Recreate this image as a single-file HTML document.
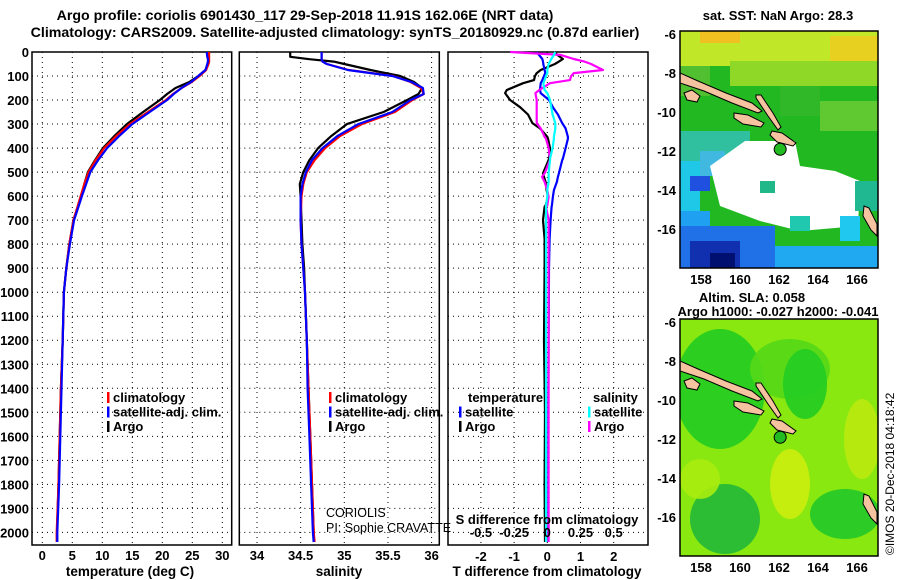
<!DOCTYPE html>
<html><head><meta charset="utf-8"><style>
body{margin:0;background:#fff;}
svg{display:block;font-family:"Liberation Sans",sans-serif;}
.b{font-weight:bold;font-size:13.5px;}
.h{font-weight:bold;font-size:14.2px;}
.t{font-weight:bold;font-size:13px;}
.n{font-weight:normal;font-size:12.5px;}
</style></head><body>
<svg id="fig" width="900" height="580" viewBox="0 0 900 580">
<text class="h" x="305" y="20" text-anchor="middle">Argo profile: coriolis 6901430_117 29-Sep-2018 11.91S 162.06E (NRT data)</text>
<text class="h" x="335" y="37" text-anchor="middle">Climatology: CARS2009. Satellite-adjusted climatology: synTS_20180929.nc (0.87d earlier)</text>
<g id="plots"></g>
<g id="maps"></g>
<text x="894" y="555" font-size="12" transform="rotate(-90 894 555)">©IMOS 20-Dec-2018 04:18:42</text>
</svg>
<script>
const NS="http://www.w3.org/2000/svg";
// ---- data ----
const depths=[0,20,30,40,50,75,100,125,150,175,200,250,300,350,400,450,500,550,600,700,800,900,1000,1200,1400,1600,1800,2000,2040];
const argoT=[27.6,27.6,27.7,27.7,27.6,27.2,26.0,24.5,22.2,20.8,19.6,16.8,14.1,12.0,10.1,8.8,7.6,7.0,6.5,5.2,4.5,4.0,3.6,3.4,3.1,2.9,2.7,2.45,2.45];
const climT=[27.8,27.8,27.8,27.8,27.7,27.3,26.2,24.9,23.2,21.8,20.6,17.6,14.6,12.3,10.3,8.9,7.7,7.0,6.4,5.2,4.5,4.0,3.6,3.4,3.1,2.9,2.7,2.4,2.4];
const satT=[27.4,27.5,27.6,27.6,27.5,27.2,26.0,24.8,23.2,21.9,20.8,17.9,15.0,12.8,10.8,9.3,8.0,7.3,6.6,5.3,4.6,4.0,3.6,3.4,3.2,3.0,2.8,2.5,2.5];
const argoS=[34.38,34.38,34.6,34.88,35.0,35.3,35.64,35.8,35.89,35.85,35.72,35.45,35.03,34.85,34.7,34.6,34.53,34.49,34.5,34.51,34.52,34.54,34.55,34.57,34.59,34.61,34.63,34.65,34.65];
const climS=[34.74,34.74,34.74,34.75,34.8,35.05,35.56,35.76,35.88,35.91,35.78,35.58,35.2,34.95,34.78,34.66,34.57,34.53,34.51,34.5,34.51,34.53,34.55,34.57,34.59,34.61,34.63,34.65,34.66];
const satS=[34.74,34.74,34.74,34.75,34.8,35.04,35.55,35.77,35.9,35.91,35.76,35.55,35.16,34.92,34.75,34.63,34.56,34.52,34.5,34.5,34.51,34.53,34.55,34.57,34.58,34.6,34.62,34.64,34.65];
const dDepth=[0,12,29,40,50,75,88,100,117,130,158,171,200,230,260,296,318,353,361,400,444,450,505,520,541,575,603,639,644,700,778,900,1200,1500,1800,2040];
const dTargo=[0.23,0.3,0.47,0.35,0.23,-0.2,-0.32,-0.37,-0.4,-0.73,-1.22,-1.27,-1.12,-0.82,-0.58,-0.45,-0.22,0,0.02,0.08,0.05,0.04,-0.13,-0.1,-0.05,-0.02,0.02,-0.05,-0.08,-0.13,-0.08,-0.08,-0.1,-0.07,-0.08,-0.07];
const dTsat=[-0.32,-0.25,-0.15,-0.13,-0.12,-0.08,-0.06,-0.1,-0.15,-0.2,-0.22,-0.2,0.05,0.17,0.32,0.45,0.55,0.62,0.62,0.55,0.47,0.45,0.35,0.32,0.29,0.2,0.17,0.14,0.13,0.1,0.07,0.05,0.04,0.03,0.03,0.03];
const dSargo=[-0.28,0.1,0.2,0.28,0.33,0.42,0.2,0.18,0.17,0.02,-0.06,-0.09,-0.08,-0.08,-0.08,-0.08,-0.05,-0.02,-0.01,0.01,0.02,0.02,-0.02,-0.04,-0.02,0.0,0.01,0.0,-0.01,0.01,0.01,0.01,0.01,0.01,0.01,0.01];
const dSsat=[0.06,0.05,0.03,0.02,0.01,0.0,0.0,-0.01,-0.02,-0.03,-0.02,0.0,0.02,0.03,0.04,0.06,0.06,0.05,0.05,0.04,0.02,0.02,0.01,0.01,0.01,0.0,0.0,-0.01,-0.01,-0.01,-0.01,-0.01,-0.01,-0.01,-0.01,-0.01];
const depthTicks=[0,100,200,300,400,500,600,700,800,900,1000,1100,1200,1300,1400,1500,1600,1700,1800,1900,2000];
const tTicks=[0,5,10,15,20,25,30];
const sTicks=["34","34.5","35","35.5","36"];
const dtTicks=[-2,-1,0,1,2];
const dsTicks=["-0.5","-0.25","0","0.25","0.5"];
// ---- axes ----
const yD=d=>52+d*0.2402;
const xT=v=>42.3+v*6;
const xS=v=>257+(v-34)*87.3;
const xDT=v=>547.3+v*33.2;
const xDS=v=>547.3+v*132.7;
const g=document.getElementById('plots');
function el(tag,attrs,parent){const e=document.createElementNS(NS,tag);for(const k in attrs)e.setAttribute(k,attrs[k]);(parent||g).appendChild(e);return e;}
function panel(name,x0,x1,xs){
  const p=el('g',{});
  
  
  for(const d of depthTicks){if(d>0){const l=el('line',{x1:x0,x2:x1,y1:yD(d),y2:yD(d),stroke:'#000','stroke-width':1,'stroke-dasharray':'1,4'},p);}}
  for(const x of xs){const l=el('line',{x1:x,x2:x,y1:52,y2:545,stroke:'#000','stroke-width':1,'stroke-dasharray':'1,4'},p);}
  const r=el('rect',{x:x0,y:52,width:x1-x0,height:493,fill:'none',stroke:'#000','stroke-width':1.5},p);
  
  
  return p;
}
function line(xs,ds,fx,color,name,p){
  const pts=xs.map((v,i)=>fx(v).toFixed(1)+','+yD(ds[i]).toFixed(1)).join(' ');
  const l=el('polyline',{points:pts,fill:'none',stroke:color,'stroke-width':2.2,'stroke-linejoin':'round'},p);
  
  
}
function txt(s,x,y,anchor,cls,name,p,extra){const t=el('text',Object.assign({x:x,y:y,'text-anchor':anchor||'start',class:cls||'t'},extra||{}),p);t.textContent=s;return t;}
for(const d of depthTicks){txt(String(d),29,yD(d)+5,'end','t','y-tick-label');}
const p1=panel('temperature-panel',32,231.7,tTicks.map(xT));
line(argoT,depths,xT,'#000','argo-temperature-line',p1);
line(climT,depths,xT,'#f00','climatology-temperature-line',p1);
line(satT,depths,xT,'#00f','satellite-temperature-line',p1);
tTicks.forEach(v=>txt(String(v),xT(v),560,'middle','t','x-tick-label',p1));
txt('temperature (deg C)',130,576,'middle','b','x-axis-title-temperature',p1);
const p2=panel('salinity-panel',239.3,439.3,sTicks.map(v=>xS(+v)));
line(argoS,depths,xS,'#000','argo-salinity-line',p2);
line(climS,depths,xS,'#f00','climatology-salinity-line',p2);
line(satS,depths,xS,'#00f','satellite-salinity-line',p2);
sTicks.forEach(v=>txt(v,xS(+v),560,'middle','t','x-tick-label',p2));
txt('salinity',339,576,'middle','b','x-axis-title-salinity',p2);
txt('CORIOLIS',326,517,'start','n','platform-label',p2);
txt('PI: Sophie CRAVATTE',326,532,'start','n','pi-label',p2);
function legend(x,y,items,p){items.forEach((it,i)=>{const r=el('rect',{x:x,y:y+i*14.5-10,width:2.5,height:11,fill:it[1]},p);txt(it[0],x+6,y+i*14.5,'start','t','legend-entry',p);});}
legend(107,402,[['climatology','#f00'],['satellite-adj. clim.','#00f'],['Argo','#000']],p1);
legend(329,402,[['climatology','#f00'],['satellite-adj. clim.','#00f'],['Argo','#000']],p2);
const p3=panel('difference-panel',448,648,dtTicks.map(xDT));
line(dTargo,dDepth,xDT,'#000','argo-temperature-diff-line',p3);
line(dTsat,dDepth,xDT,'#00f','satellite-temperature-diff-line',p3);
line(dSargo,dDepth,xDS,'#f0f','argo-salinity-diff-line',p3);
line(dSsat,dDepth,xDS,'#0ff','satellite-salinity-diff-line',p3);
dtTicks.forEach(v=>txt(String(v),xDT(v),561,'middle','t','x-tick-label',p3));
dsTicks.forEach(v=>txt(v,xDS(+v),537,'middle','t','s-tick-label',p3));
txt('S difference from climatology',547,524,'middle','t','s-axis-title',p3);
txt('T difference from climatology',547,576,'middle','b','x-axis-title-tdiff',p3);
txt('temperature',468,402,'start','t','legend-title-temperature',p3);
txt('salinity',593,402,'start','t','legend-title-salinity',p3);
legend(459,416.5,[['satellite','#00f'],['Argo','#000']],p3);
legend(588,416.5,[['satellite','#0ff'],['Argo','#f0f']],p3);
// ---- maps ----
const m=document.getElementById('maps');
const lonTicks=[158,160,162,164,166];
const latTicks=[-6,-8,-10,-12,-14,-16];
const mx=lon=>701+(lon-158)*19.5;
function mapPanel(name,top,cellColor){
  const grp=el('g',{},m);
  
  
  const my=lat=>top+3+(-6-lat)*19.5;
  const cid=name+'-clip';
  const cp=el('clipPath',{id:cid},grp);el('rect',{x:680,y:top,width:198,height:237},cp);
  const body=el('g',{'clip-path':'url(#'+cid+')'},grp);
  cellColor(body,top);
  const islands=[
   'M680,'+(top+42)+' l18,8 l28,12 l26,10 l10,8 l-4,2 l-26,-10 l-28,-12 l-24,-8z',
   'M684,'+(top+62)+' l8,-3 l8,6 l-3,6 l-10,-2z',
   'M734,'+(top+82)+' l14,2 l16,8 l-3,4 l-18,-3 l-9,-6z',
   'M756,'+(top+64)+' l5,0 l12,18 l8,14 l-3,3 l-10,-14 l-12,-18z',
   'M772,'+(top+100)+' l10,2 l14,10 l-3,3 l-16,-4 l-7,-7z',
   'M864,'+(top+175)+' l5,2 l8,16 l0,12 l-6,-6 l-8,-14z'];
  islands.forEach(d=>{const p=el('path',{d:d,fill:'#f5c3a0',stroke:'#000','stroke-width':1},body);});
  const c=el('circle',{cx:mx(162.06),cy:my(-11.91),r:6,fill:'#22bb22',stroke:'#000','stroke-width':1},body);
  
  const f=el('rect',{x:680,y:top,width:198,height:237,fill:'none',stroke:'#000','stroke-width':1.5},grp);
  
  latTicks.forEach(v=>txt(String(v),676,my(v)+5,'end','t','lat-tick-label',grp));
  lonTicks.forEach(v=>txt(String(v),mx(v),top+253,'middle','t','lon-tick-label',grp));
}
function rect(p,x,y,w,h,fill){const r=el('rect',{x:x,y:y,width:w,height:h,fill:fill},p);}
mapPanel('sst-map',31,(b,t)=>{
  rect(b,680,t,198,237,'#22b822');
  rect(b,680,t,198,35,'#c0e828');
  rect(b,700,t,40,12,'#f0c020');rect(b,830,t+5,48,30,'#e8d020');
  rect(b,730,t+30,148,25,'#90d828');rect(b,680,t+35,30,30,'#50c030');
  rect(b,780,t+55,40,30,'#30b828');rect(b,820,t+70,58,30,'#60c830');
  rect(b,680,t+100,70,30,'#30c0a0');rect(b,680,t+130,20,50,'#20c8e8');
  rect(b,700,t+120,25,25,'#40b8e0');rect(b,690,t+145,20,15,'#2050e0');
  const w=el('path',{d:'M745,'+(t+110)+' L795,'+(t+110)+' L800,'+(t+135)+' L835,'+(t+140)+' L860,'+(t+150)+' L858,'+(t+195)+' L800,'+(t+200)+' L760,'+(t+190)+' L720,'+(t+175)+' L710,'+(t+135)+'z',fill:'#fff'},b);
  
  rect(b,680,t+180,30,25,'#20a0f0');
  rect(b,680,t+195,95,42,'#2070e8');rect(b,690,t+210,50,27,'#1030b0');rect(b,710,t+222,25,15,'#001070');
  rect(b,775,t+215,103,22,'#20a8f0');rect(b,840,t+185,20,25,'#20c8f0');
  rect(b,855,t+150,23,30,'#20b890');rect(b,790,t+185,20,15,'#20c8b0');
  rect(b,760,t+150,15,12,'#20b888');
});
mapPanel('sla-map',319,(b,t)=>{
  rect(b,680,t,198,237,'#88e810');
  const blobs=[[720,t+70,45,60,'#22cc22'],[790,t+50,40,30,'#55d818'],[805,t+65,22,35,'#22cc22'],[725,t+200,35,35,'#22b838'],[845,t+195,35,25,'#22c828'],[790,t+165,20,35,'#ccee10'],[862,t+120,18,40,'#bbea10'],[700,t+160,20,20,'#aaec10']];
  blobs.forEach(q=>{const e=el('ellipse',{cx:q[0],cy:q[1],rx:q[2],ry:q[3],fill:q[4],opacity:0.9},b);});
});
txt('sat. SST: NaN Argo: 28.3',778,20,'middle','t','sst-map-title',m);
txt('Altim. SLA: 0.058',752,302,'middle','t','sla-map-title',m);
txt('Argo h1000: -0.027 h2000: -0.041',778,316,'middle','t','sla-map-subtitle',m);
</script>
</body></html>
